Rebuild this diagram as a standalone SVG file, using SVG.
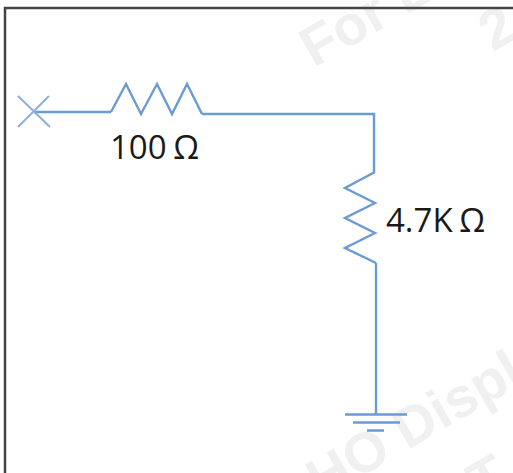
<svg xmlns="http://www.w3.org/2000/svg" width="513" height="473" viewBox="0 0 513 473">
<style>
.w{fill:none;stroke:#6c9ad2;stroke-width:2.400;stroke-linejoin:miter}
.x{fill:none;stroke:#8fb0da;stroke-width:2}
.t{font-family:"Open Sans","Liberation Sans",sans-serif;font-size:33px;fill:#1a1a1a;word-spacing:-2px}
.m{font-family:"Liberation Sans",sans-serif;font-size:56px;font-weight:bold;fill:#f0f0f0}
</style>
<rect width="513" height="473" fill="#fff"/>
<g id="watermark">
<text class="m" transform="translate(314 68) rotate(-30)" xml:space="preserve">For E</text>
<text class="m" transform="translate(493 52) rotate(-30)">2</text>
<text class="m" transform="translate(321 500) rotate(-30)">HO Displ</text>
<text class="m" transform="translate(482 503) rotate(-30)">T</text>
</g>
<path id="frame" d="M5 473V8H513" fill="none" stroke="#444" stroke-width="2.500"/>
<g id="connectors">
<path class="w" d="M34 112H111"/>
<path class="w" d="M202 114H374V172"/>
<path class="w" d="M376 263V414"/>
</g>
<g id="terminal"><path class="x" d="M18 96L50 127M49 96L18 127"/></g>
<g id="r1"><path class="w" d="M111 112L126 84L141 114L157 84L172 114L187 84L202 114"/>
<text class="t" x="110" y="159">100 Ω</text></g>
<g id="r2"><path class="w" d="M375 172L345 188L375 203L345 218L375 233L345 248L376 263"/>
<text class="t" x="386" y="232">4.7K Ω</text></g>
<g id="ground"><path class="w" d="M345 414.500H407M353 422.500H400M367 430.500H384"/></g>
</svg>
